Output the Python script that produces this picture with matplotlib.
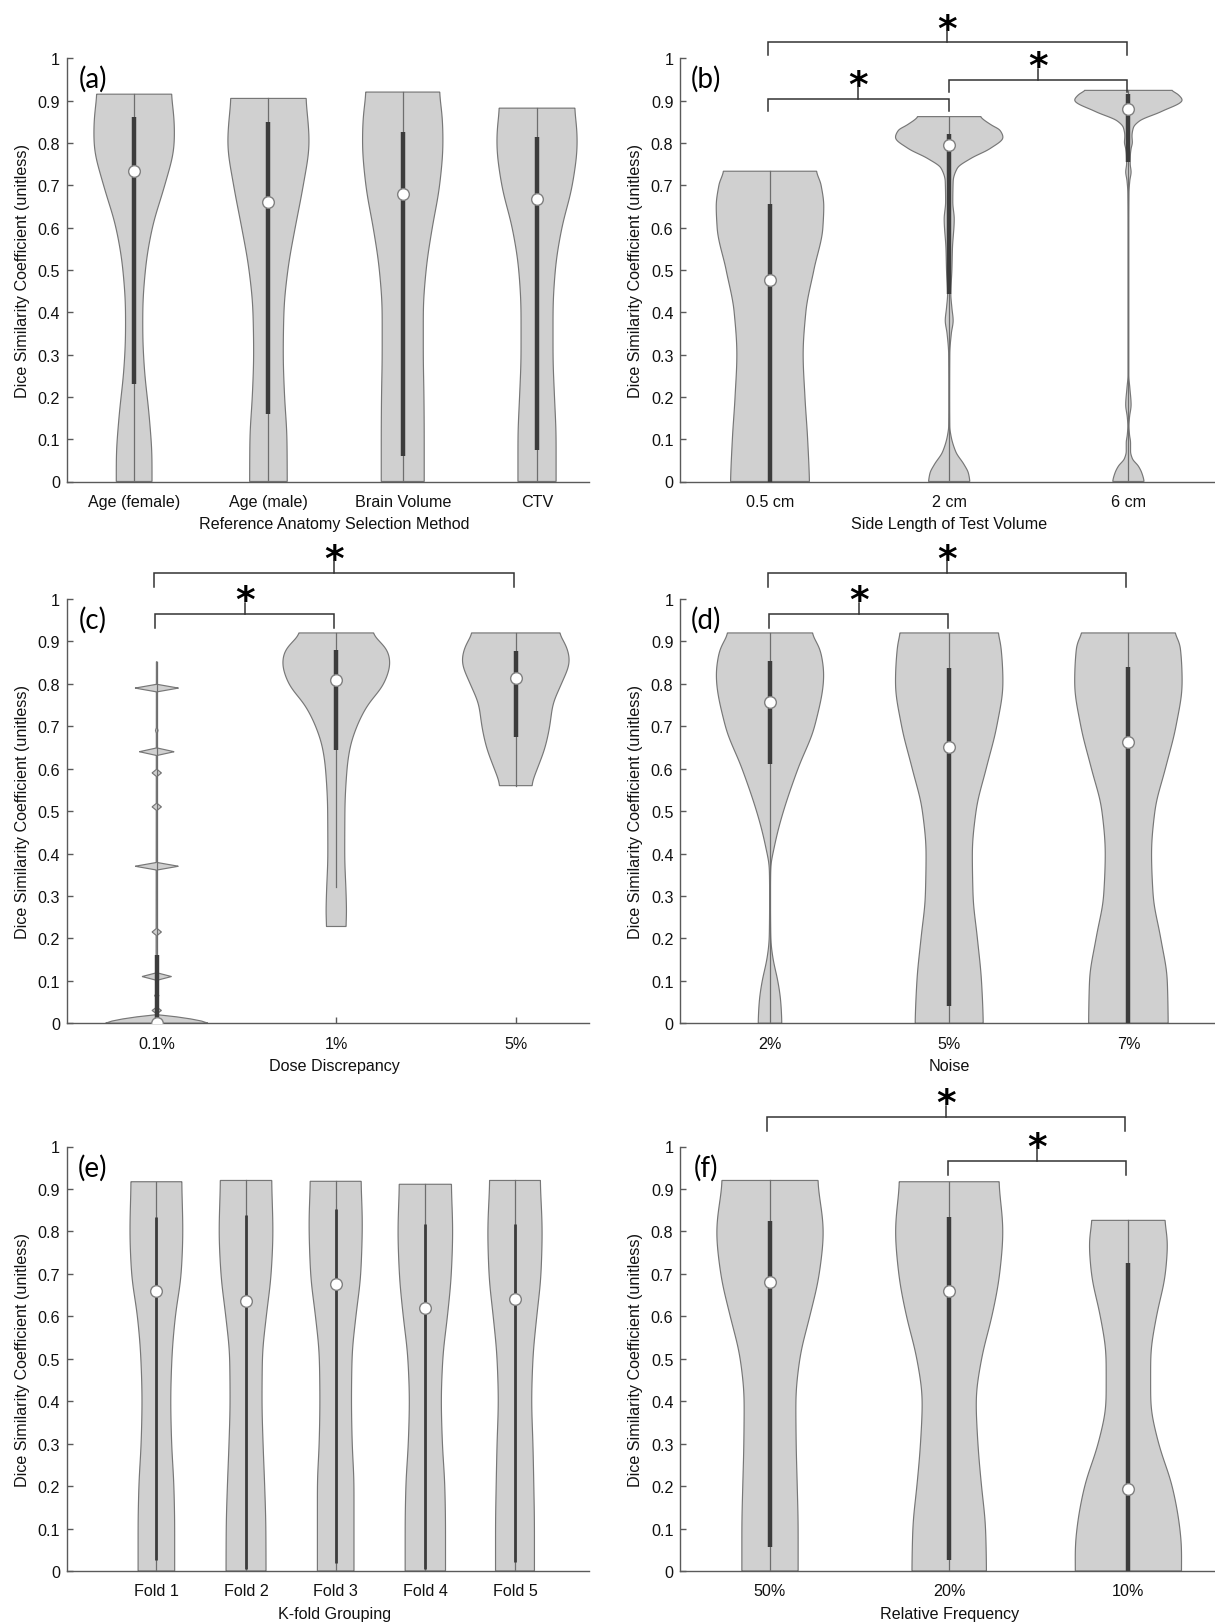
import numpy as np
import matplotlib
matplotlib.use("Agg")
import matplotlib.pyplot as plt
from matplotlib.patches import Polygon

# ------------------------------------------------------------------ data
yticks = [0, 0.1, 0.2, 0.3, 0.4, 0.5, 0.6, 0.7, 0.8, 0.9, 1.0]
ytick_labels = ["0", "0.1", "0.2", "0.3", "0.4", "0.5", "0.6", "0.7", "0.8", "0.9", "1"]
ylabel_text = "Dice Similarity Coefficient (unitless)"

# (a) Reference anatomy selection method
a_categories = ["Age (female)", "Age (male)", "Brain Volume", "CTV"]
a_median = [0.733, 0.66, 0.68, 0.667]
a_q1 = [0.23, 0.16, 0.06, 0.075]
a_q3 = [0.86, 0.85, 0.825, 0.815]
a_lo = [0.0, 0.0, 0.0, 0.0]
a_hi = [0.915, 0.905, 0.92, 0.882]
a_prof_y = [
    [0, 0.05, 0.15, 0.27, 0.35, 0.4, 0.5, 0.6, 0.7, 0.8, 0.84, 0.88, 0.915],
    [0, 0.1, 0.2, 0.3, 0.4, 0.5, 0.6, 0.7, 0.8, 0.85, 0.905],
    [0, 0.1, 0.2, 0.3, 0.4, 0.5, 0.6, 0.7, 0.8, 0.86, 0.92],
    [0, 0.1, 0.2, 0.3, 0.4, 0.5, 0.6, 0.7, 0.8, 0.84, 0.882],
]
a_prof_w = [
    [0.133, 0.133, 0.113, 0.075, 0.064, 0.064, 0.084, 0.136, 0.229, 0.30, 0.30, 0.29, 0.275],
    [0.14, 0.138, 0.12, 0.11, 0.115, 0.145, 0.20, 0.26, 0.304, 0.295, 0.278],
    [0.16, 0.16, 0.158, 0.153, 0.153, 0.174, 0.22, 0.275, 0.30, 0.295, 0.272],
    [0.142, 0.142, 0.13, 0.119, 0.119, 0.136, 0.185, 0.263, 0.30, 0.295, 0.278],
]

# (b) Side length of test volume
b_categories = ["0.5 cm", "2 cm", "6 cm"]
b_median = [0.475, 0.795, 0.88]
b_q1 = [0.0, 0.443, 0.755]
b_q3 = [0.655, 0.82, 0.916]
b_lo = [0.0, 0.0, 0.0]
b_hi = [0.733, 0.862, 0.924]
b_prof_y = [
    [0, 0.1, 0.2, 0.3, 0.4, 0.5, 0.6, 0.65, 0.7, 0.733],
    [0, 0.02, 0.04, 0.07, 0.11, 0.13, 0.2, 0.3, 0.35, 0.38, 0.41, 0.443, 0.5, 0.55, 0.62,
     0.66, 0.709, 0.74, 0.763, 0.787, 0.813, 0.83, 0.842, 0.862],
    [0, 0.02, 0.035, 0.053, 0.07, 0.09, 0.11, 0.13, 0.15, 0.18, 0.22, 0.25, 0.6, 0.68,
     0.71, 0.73, 0.75, 0.77, 0.785, 0.8, 0.815, 0.835, 0.85, 0.873, 0.9, 0.912, 0.924],
]
b_prof_w = [
    [0.22, 0.21, 0.195, 0.185, 0.2, 0.245, 0.295, 0.30, 0.285, 0.26],
    [0.115, 0.107, 0.083, 0.037, 0.009, 0.003, 0.002, 0.003, 0.012, 0.022, 0.015, 0.009,
     0.015, 0.018, 0.028, 0.02, 0.022, 0.045, 0.12, 0.23, 0.30, 0.283, 0.236, 0.175],
    [0.087, 0.074, 0.056, 0.022, 0.012, 0.012, 0.006, 0.003, 0.006, 0.015, 0.008, 0.002,
     0.002, 0.003, 0.008, 0.015, 0.01, 0.011, 0.015, 0.022, 0.02, 0.028, 0.06, 0.185,
     0.30, 0.28, 0.24],
]

# (c) Dose discrepancy
c_categories = ["0.1%", "1%", "5%"]
c_median = [0.0, 0.808, 0.813]
c_q1 = [0.0, 0.643, 0.675]
c_q3 = [0.16, 0.88, 0.878]
c_lo = [0.0, 0.32, 0.56]
c_hi = [0.852, 0.92, 0.92]
# first violin: a flat hump at zero plus sharp peaks along a thin stem
c1_base_y = [0, 0.005, 0.01, 0.015, 0.02, 0.852]
c1_base_w = [0.285, 0.25, 0.19, 0.11, 0.004, 0.002]
c1_peak_y = [0.03, 0.065, 0.11, 0.215, 0.37, 0.51, 0.59, 0.64, 0.69, 0.79]
c1_peak_w = [0.026, 0.012, 0.082, 0.026, 0.121, 0.026, 0.026, 0.097, 0.007, 0.121]
c1_peak_h = [0.008, 0.006, 0.009, 0.009, 0.009, 0.009, 0.009, 0.009, 0.01, 0.009]
c_prof_y = [
    None,
    [0.228, 0.26, 0.3, 0.4, 0.5, 0.6, 0.65, 0.7, 0.75, 0.8, 0.85, 0.88, 0.92],
    [0.56, 0.6, 0.65, 0.7, 0.75, 0.8, 0.855, 0.9, 0.92],
]
c_prof_w = [
    None,
    [0.054, 0.057, 0.055, 0.047, 0.048, 0.06, 0.077, 0.115, 0.175, 0.265, 0.30, 0.285, 0.195],
    [0.087, 0.12, 0.163, 0.189, 0.206, 0.254, 0.30, 0.27, 0.236],
]

# (d) Noise
d_categories = ["2%", "5%", "7%"]
d_median = [0.757, 0.65, 0.662]
d_q1 = [0.61, 0.04, 0.0]
d_q3 = [0.855, 0.838, 0.84]
d_lo = [0.0, 0.0, 0.0]
d_hi = [0.92, 0.92, 0.92]
d_prof_y = [
    [0, 0.05, 0.1, 0.15, 0.2, 0.3, 0.37, 0.4, 0.45, 0.5, 0.6, 0.7, 0.82, 0.88, 0.92],
    [0, 0.1, 0.2, 0.3, 0.4, 0.5, 0.6, 0.7, 0.8, 0.9, 0.92],
    [0, 0.1, 0.2, 0.3, 0.4, 0.5, 0.6, 0.7, 0.8, 0.9, 0.92],
]
d_prof_w = [
    [0.066, 0.06, 0.043, 0.017, 0.004, 0.002, 0.004, 0.017, 0.043, 0.076, 0.157, 0.25, 0.30, 0.28, 0.23],
    [0.19, 0.18, 0.157, 0.133, 0.129, 0.15, 0.207, 0.266, 0.30, 0.285, 0.27],
    [0.222, 0.217, 0.18, 0.138, 0.129, 0.148, 0.207, 0.266, 0.30, 0.285, 0.25],
]

# (e) K-fold grouping
e_categories = ["Fold 1", "Fold 2", "Fold 3", "Fold 4", "Fold 5"]
e_median = [0.66, 0.635, 0.677, 0.62, 0.64]
e_q1 = [0.025, 0.005, 0.02, 0.005, 0.022]
e_q3 = [0.835, 0.838, 0.852, 0.818, 0.818]
e_lo = [0.0, 0.0, 0.0, 0.0, 0.0]
e_hi = [0.917, 0.92, 0.918, 0.911, 0.92]
e_prof_y = [
    [0, 0.1, 0.2, 0.3, 0.4, 0.5, 0.6, 0.7, 0.8, 0.917],
    [0, 0.1, 0.2, 0.3, 0.4, 0.5, 0.6, 0.7, 0.8, 0.92],
    [0, 0.1, 0.2, 0.3, 0.4, 0.5, 0.6, 0.7, 0.82, 0.918],
    [0, 0.1, 0.2, 0.3, 0.4, 0.5, 0.6, 0.7, 0.8, 0.911],
    [0, 0.1, 0.2, 0.3, 0.4, 0.5, 0.6, 0.7, 0.8, 0.92],
]
e_prof_w = [
    [0.204, 0.204, 0.195, 0.17, 0.16, 0.173, 0.212, 0.277, 0.295, 0.283],
    [0.223, 0.221, 0.208, 0.19, 0.178, 0.182, 0.226, 0.28, 0.30, 0.286],
    [0.204, 0.204, 0.204, 0.184, 0.176, 0.182, 0.226, 0.28, 0.297, 0.283],
    [0.225, 0.225, 0.217, 0.19, 0.178, 0.195, 0.247, 0.29, 0.305, 0.29],
    [0.217, 0.217, 0.21, 0.20, 0.186, 0.20, 0.243, 0.29, 0.303, 0.282],
]

# (f) Relative frequency
f_categories = ["50%", "20%", "10%"]
f_median = [0.68, 0.66, 0.193]
f_q1 = [0.057, 0.025, 0.0]
f_q3 = [0.825, 0.835, 0.725]
f_lo = [0.0, 0.0, 0.0]
f_hi = [0.92, 0.917, 0.826]
f_prof_y = [
    [0, 0.1, 0.2, 0.3, 0.4, 0.5, 0.6, 0.7, 0.8, 0.92],
    [0, 0.1, 0.2, 0.3, 0.4, 0.5, 0.6, 0.7, 0.8, 0.917],
    [0, 0.05, 0.1, 0.2, 0.3, 0.4, 0.5, 0.6, 0.7, 0.78, 0.826],
]
f_prof_w = [
    [0.157, 0.157, 0.152, 0.146, 0.144, 0.166, 0.222, 0.275, 0.298, 0.266],
    [0.208, 0.203, 0.18, 0.16, 0.15, 0.181, 0.239, 0.282, 0.30, 0.277],
    [0.296, 0.297, 0.287, 0.244, 0.168, 0.124, 0.124, 0.157, 0.207, 0.219, 0.20],
]

# significance brackets: left x, right x, bar height
b_br_x1 = [0.987, 0.987, 2.0]
b_br_x2 = [2.99, 1.997, 2.99]
b_br_y = [1.0376, 0.904, 0.948]
c_br_x1 = [0.984, 0.99]
c_br_x2 = [2.99, 1.99]
c_br_y = [1.0615, 0.964]
d_br_x1 = [0.989, 0.995]
d_br_x2 = [2.989, 1.994]
d_br_y = [1.0615, 0.964]
f_br_x1 = [0.984, 1.994]
f_br_x2 = [2.98, 2.989]
f_br_y = [1.069, 0.966]

# ------------------------------------------------------------------ style
FILL = "#d0d0d0"
EDGE = "#777777"
WHISK = "#6e6e6e"
IQR = "#3c3c3c"
AXC = "#5a5a5a"
TXT = "#111111"
TICKFONT = "Liberation Sans"
FS = 11.6

plt.rcParams["font.family"] = ["Liberation Sans", "DejaVu Sans"]

fig = plt.figure(figsize=(12.15, 16.24), dpi=100)
W, H = 1215.0, 1624.0


def pchip(x, y, xn):
    x = np.asarray(x, float)
    y = np.asarray(y, float)
    h = np.diff(x)
    dl = np.diff(y) / h
    n = len(x)
    d = np.zeros(n)
    for k in range(1, n - 1):
        if dl[k - 1] * dl[k] > 0:
            w1 = 2 * h[k] + h[k - 1]
            w2 = h[k] + 2 * h[k - 1]
            d[k] = (w1 + w2) / (w1 / dl[k - 1] + w2 / dl[k])
    d[0] = dl[0] * 0.5
    d[-1] = dl[-1] * 0.5
    idx = np.clip(np.searchsorted(x, xn, side="right") - 1, 0, n - 2)
    t = (xn - x[idx]) / h[idx]
    h00 = 2 * t**3 - 3 * t**2 + 1
    h10 = t**3 - 2 * t**2 + t
    h01 = -2 * t**3 + 3 * t**2
    h11 = t**3 - t**2
    return h00 * y[idx] + h10 * h[idx] * d[idx] + h01 * y[idx + 1] + h11 * h[idx] * d[idx + 1]


def smooth(y, w, win):
    yy = np.linspace(y[0], y[-1], 800)
    ww = pchip(y, w, yy)
    if win > 0:
        step = yy[1] - yy[0]
        k = max(1, int(round(win / step)))
        ker = np.ones(k) / k
        for _ in range(2):
            pad = np.concatenate([np.full(k, ww[0]), ww, np.full(k, ww[-1])])
            ww = np.convolve(pad, ker, mode="same")[k:-k]
    return yy, np.clip(ww, 0.0015, None)


def c1_profile():
    yy = np.linspace(0, c1_base_y[-1], 4000)
    ww = np.interp(yy, c1_base_y, c1_base_w)
    for py, pw, ph in zip(c1_peak_y, c1_peak_w, c1_peak_h):
        tri = pw * np.clip(1 - np.abs(yy - py) / ph, 0, None)
        ww = np.maximum(ww, tri)
    return yy, ww


def draw_violin(ax, x, yy, ww):
    xs = np.concatenate([x + ww, (x - ww)[::-1]])
    ys = np.concatenate([yy, yy[::-1]])
    ax.add_patch(Polygon(np.column_stack([xs, ys]), closed=True, facecolor=FILL,
                         edgecolor=EDGE, linewidth=0.85, zorder=2))


def panel(rect, cats, med, q1, q3, lo, hi, prof_y, prof_w, xlim, xlabel, letter,
          win=0.035, iqr_lw=3.2, custom=None, xlab_x=0.5):
    ax = fig.add_axes(rect)
    pos = np.arange(1, len(cats) + 1)
    for i, x in enumerate(pos):
        if custom is not None and i == 0:
            yy, ww = custom()
        else:
            yy, ww = smooth(prof_y[i], prof_w[i], win)
        draw_violin(ax, x, yy, ww)
        ax.plot([x, x], [lo[i], hi[i]], color=WHISK, lw=0.9, zorder=3)
        ax.plot([x, x], [q1[i], q3[i]], color=IQR, lw=iqr_lw, solid_capstyle="butt", zorder=4)
        ax.plot([x], [med[i]], marker="o", ms=8.4, mfc="white", mec="#808080", mew=1.0, zorder=5)
    ax.set_xlim(*xlim)
    ax.set_ylim(0, 1)
    ax.set_xticks(pos)
    ax.set_xticklabels(cats, fontsize=FS, color=TXT, fontfamily=TICKFONT)
    ax.set_yticks(yticks)
    ax.set_yticklabels(ytick_labels, fontsize=FS, color=TXT, fontfamily=TICKFONT)
    ax.tick_params(direction="in", length=4, width=1.0, color=AXC)
    ax.tick_params(axis="x", pad=9)
    ax.tick_params(axis="y", pad=5)
    for s in ["top", "right"]:
        ax.spines[s].set_visible(False)
    for s in ["left", "bottom"]:
        ax.spines[s].set_color(AXC)
        ax.spines[s].set_linewidth(1.0)
    wpx = rect[2] * W
    hpx = rect[3] * H
    ax.set_xlabel(xlabel, fontsize=FS, color=TXT)
    ax.xaxis.set_label_coords(xlab_x, -35 / hpx)
    ax.set_ylabel(ylabel_text, fontsize=FS, color=TXT)
    ax.yaxis.set_label_coords(-37 / wpx, 0.5)
    ax.text(25.5 / wpx, 0.952, letter, transform=ax.transAxes, fontsize=20,
            fontfamily=["Lato", "DejaVu Sans"], ha="center", va="center", color="black")
    ax.set_facecolor("none")
    return ax


def brackets(ax, x1s, x2s, ys, drop=0.03, tick=0.027):
    for x1, x2, y in zip(x1s, x2s, ys):
        ax.plot([x1, x1, x2, x2], [y - drop, y, y, y - drop], color="#333333", lw=1.1,
                clip_on=False, zorder=6, solid_joinstyle="miter")
        xm = 0.5 * (x1 + x2)
        ax.plot([xm, xm], [y, y + tick], color="#333333", lw=1.1, clip_on=False, zorder=6)
        ax.annotate("*", xy=(xm, y), xytext=(0, 2.0), textcoords="offset points",
                    ha="center", va="baseline", fontsize=27, fontweight="bold",
                    fontfamily="DejaVu Sans", color="black", annotation_clip=False)


col1_l, col1_w = 67 / W, 522.4 / W
col2_l, col2_w = 680.4 / W, 537.6 / W
row1 = (1 - 482.5 / H, 423.3 / H)
row2 = (1 - 1024.2 / H, 424.2 / H)
row3 = (1 - 1572.0 / H, 424.5 / H)

axa = panel([col1_l, row1[0], col1_w, row1[1]], a_categories, a_median, a_q1, a_q3, a_lo, a_hi,
            a_prof_y, a_prof_w, (0.5, 4.39), "Reference Anatomy Selection Method", "(a)",
            win=0.05, xlab_x=0.512)
axb = panel([col2_l, row1[0], col2_w, row1[1]], b_categories, b_median, b_q1, b_q3, b_lo, b_hi,
            b_prof_y, b_prof_w, (0.5, 3.5), "Side Length of Test Volume", "(b)", win=0.005)
axc = panel([col1_l, row2[0], col1_w, row2[1]], c_categories, c_median, c_q1, c_q3, c_lo, c_hi,
            c_prof_y, c_prof_w, (0.5, 3.41), "Dose Discrepancy", "(c)", custom=c1_profile,
            win=0.03, xlab_x=0.512)
axd = panel([col2_l, row2[0], col2_w, row2[1]], d_categories, d_median, d_q1, d_q3, d_lo, d_hi,
            d_prof_y, d_prof_w, (0.5, 3.5), "Noise", "(d)", win=0.03)
axe = panel([col1_l, row3[0], col1_w, row3[1]], e_categories, e_median, e_q1, e_q3, e_lo, e_hi,
            e_prof_y, e_prof_w, (0.003, 5.83), "K-fold Grouping", "(e)", iqr_lw=2.0,
            win=0.05, xlab_x=0.512)
axf = panel([col2_l, row3[0], col2_w, row3[1]], f_categories, f_median, f_q1, f_q3, f_lo, f_hi,
            f_prof_y, f_prof_w, (0.5, 3.5), "Relative Frequency", "(f)", win=0.05)

brackets(axb, b_br_x1, b_br_x2, b_br_y, drop=0.029)
brackets(axc, c_br_x1, c_br_x2, c_br_y, drop=0.033)
brackets(axd, d_br_x1, d_br_x2, d_br_y, drop=0.033)
brackets(axf, f_br_x1, f_br_x2, f_br_y, drop=0.033)

fig.savefig("out.png", dpi=100, facecolor="white")
